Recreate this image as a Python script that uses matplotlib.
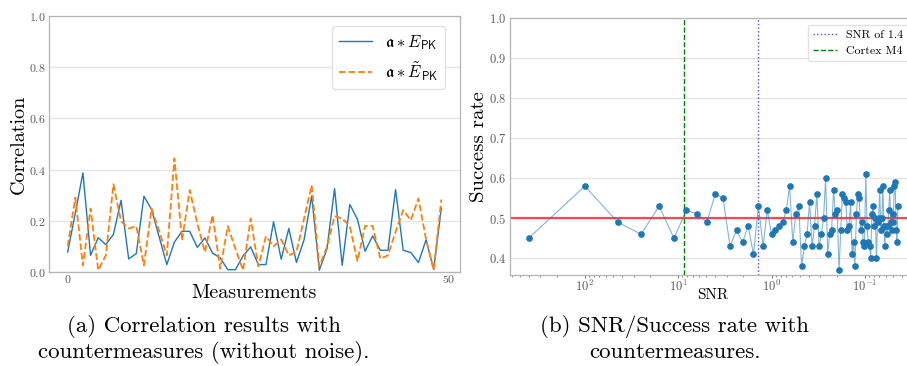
import matplotlib
matplotlib.use("Agg")
import matplotlib.pyplot as plt
from matplotlib.ticker import LogLocator, NullFormatter

plt.rcParams['font.family'] = ['cmr10', 'DejaVu Serif']
plt.rcParams['mathtext.fontset'] = 'cm'
plt.rcParams['axes.formatter.use_mathtext'] = True

# ---------------- data: panel (a) ----------------
measurements = list(range(50))
corr_epk = [0.078, 0.23, 0.387, 0.065, 0.134, 0.107, 0.147, 0.28, 0.051, 0.072,
            0.296, 0.244, 0.137, 0.029, 0.117, 0.159, 0.159, 0.096, 0.133, 0.074,
            0.055, 0.009, 0.009, 0.063, 0.098, 0.029, 0.029, 0.196, 0.05, 0.17,
            0.037, 0.126, 0.297, 0.007, 0.09, 0.326, 0.026, 0.264, 0.206, 0.081,
            0.141, 0.085, 0.085, 0.322, 0.085, 0.076, 0.037, 0.126, 0.01, 0.25]
corr_epk_tilde = [0.10, 0.291, 0.026, 0.248, 0.007, 0.065, 0.343, 0.198, 0.17, 0.179,
                  0.026, 0.248, 0.16, 0.065, 0.444, 0.124, 0.32, 0.19, 0.078, 0.222,
                  0.013, 0.179, 0.091, 0.007, 0.209, 0.022, 0.14, 0.10, 0.127, 0.065,
                  0.078, 0.209, 0.339, 0.022, 0.098, 0.218, 0.209, 0.179, 0.043, 0.18,
                  0.18, 0.052, 0.065, 0.157, 0.242, 0.202, 0.287, 0.127, 0.009, 0.283]
label_epk = r'$\mathfrak{a} \ast E_{\mathsf{PK}}$'
label_epk_tilde = r'$\mathfrak{a} \ast \tilde{E}_{\mathsf{PK}}$'

# ---------------- data: panel (b) ----------------
snr = [400, 100, 44.4, 25, 16, 11.1, 8.16, 6.25, 4.94, 4.0,
       3.31, 2.78, 2.37, 2.04, 1.78, 1.56, 1.38, 1.23, 1.11, 1.0,
       0.907, 0.826, 0.756, 0.694, 0.64, 0.592, 0.549, 0.510, 0.476, 0.444,
       0.416, 0.391, 0.367, 0.346, 0.327, 0.309, 0.292, 0.277, 0.263, 0.25,
       0.238, 0.227, 0.216, 0.207, 0.198, 0.189, 0.181, 0.174, 0.167, 0.16,
       0.154, 0.148, 0.142, 0.137, 0.132, 0.128, 0.123, 0.119, 0.115, 0.111,
       0.107, 0.104, 0.101, 0.0977, 0.0947, 0.0918, 0.0891, 0.0865, 0.0840, 0.0816,
       0.0793, 0.0772, 0.0751, 0.0730, 0.0711, 0.0693, 0.0675, 0.0657, 0.0641, 0.0625,
       0.0610, 0.0595, 0.0581, 0.0567, 0.0554, 0.0541, 0.0528, 0.0517, 0.0505, 0.0494,
       0.0483, 0.0473, 0.0462, 0.0453, 0.0443]
success = [0.45, 0.58, 0.49, 0.46, 0.53, 0.45, 0.52, 0.51, 0.49, 0.56,
           0.55, 0.43, 0.47, 0.44, 0.48, 0.41, 0.53, 0.43, 0.52, 0.46,
           0.47, 0.48, 0.49, 0.52, 0.58, 0.44, 0.51, 0.53, 0.38, 0.43,
           0.46, 0.54, 0.43, 0.48, 0.56, 0.43, 0.46, 0.50, 0.60, 0.41,
           0.46, 0.47, 0.57, 0.51, 0.52, 0.37, 0.47, 0.56, 0.55, 0.54,
           0.47, 0.48, 0.54, 0.41, 0.44, 0.38, 0.51, 0.56, 0.55, 0.47,
           0.49, 0.44, 0.43, 0.61, 0.48, 0.44, 0.43, 0.40, 0.51, 0.53,
           0.48, 0.50, 0.40, 0.49, 0.50, 0.57, 0.47, 0.50, 0.58, 0.48,
           0.43, 0.48, 0.46, 0.48, 0.52, 0.57, 0.49, 0.47, 0.49, 0.51,
           0.58, 0.59, 0.47, 0.44, 0.53]
snr_threshold = 1.4
snr_cortex_m4 = 8.6
baseline = 0.5

captions_a = ["(a) Correlation results with", "countermeasures (without noise)."]
captions_b = ["(b) SNR/Success rate with", "countermeasures."]

# ---------------- figure ----------------
W, H = 907, 366
fig = plt.figure(figsize=(W / 100, H / 100), dpi=100)

def px_axes(l, r, t, b):
    return fig.add_axes([l / W, (H - b) / H, (r - l) / W, (b - t) / H])

spine_col = '#b5b5b5'
grid_col = '#e6e6e6'
tick_col = '#5a5a5a'

def style(ax, fs):
    for s in ax.spines.values():
        s.set_color(spine_col)
        s.set_linewidth(0.9)
    ax.grid(axis='y', color=grid_col, lw=1.0)
    ax.grid(axis='x', visible=False)
    ax.set_axisbelow(True)
    ax.tick_params(colors=tick_col, labelsize=fs, length=0, width=0.6, pad=2.3)

# ---- panel (a)
ax1 = px_axes(49, 460, 16, 272)
style(ax1, 8.5)
ax1.tick_params(axis='x', pad=1.0)
ax1.plot(measurements, corr_epk, color='#1f77b4', lw=1.0, label=label_epk)
ax1.plot(measurements, corr_epk_tilde, color='#ff7f0e', lw=1.3, ls='--',
         label=label_epk_tilde)
ax1.set_xlim(-2.45, 51.45)
ax1.set_ylim(0, 1.0)
ax1.set_xticks([0, 50])
ax1.set_yticks([0.0, 0.2, 0.4, 0.6, 0.8, 1.0])
ax1.set_xlabel('Measurements', fontsize=14.5)
ax1.xaxis.set_label_coords(0.5, -(293 - 272) / 256)
ax1.xaxis.label.set_va('center')
ax1.set_ylabel('Correlation', fontsize=14.5)
ax1.yaxis.set_label_coords((19 - 49) / 411, 0.5)
ax1.yaxis.label.set_va('center')
leg1 = ax1.legend(loc='upper left', bbox_to_anchor=((332 - 49) / 411, (272 - 26) / 256),
                  borderaxespad=0, fontsize=12, frameon=True, fancybox=True,
                  edgecolor='#dddddd', framealpha=0.85)

# ---- panel (b)
ax2 = px_axes(510, 916, 18, 275)
style(ax2, 9)
ax2.set_xscale('log')
ax2.axhline(baseline, color='red', alpha=0.7, lw=1.6, zorder=2)
ax2.axvline(snr_threshold, color='blue', ls=':', lw=1.0, alpha=0.7,
            label='SNR of 1.4', zorder=2)
ax2.axvline(snr_cortex_m4, color='green', ls='--', lw=1.0,
            label='Cortex M4', zorder=2)
ax2.plot(snr, success, color='#1f77b4', lw=0.8, alpha=0.55, zorder=3)
ax2.plot(snr, success, ls='none', marker='o', ms=3.8, color='#1f77b4', zorder=4)
ax2.set_xlim(634, 0.0283)
ax2.set_ylim(0.358, 1.0)
ax2.set_yticks([0.4, 0.5, 0.6, 0.7, 0.8, 0.9, 1.0])
ax2.xaxis.set_major_locator(LogLocator(base=10, numticks=10))
ax2.xaxis.set_minor_locator(LogLocator(base=10, subs=range(2, 10), numticks=10))
ax2.xaxis.set_minor_formatter(NullFormatter())
ax2.tick_params(axis='x', which='major', length=2, width=0.6, pad=0.5)
ax2.tick_params(axis='x', which='minor', length=1.5, width=0.5, colors=tick_col)
ax2.set_xlabel('SNR', fontsize=11)
ax2.xaxis.set_label_coords(0.5, -(295 - 275) / 257)
ax2.xaxis.label.set_va('center')
ax2.set_ylabel('Success rate', fontsize=15)
ax2.yaxis.set_label_coords((479 - 510) / 406, 0.5)
ax2.yaxis.label.set_va('center')
leg2 = ax2.legend(loc='upper left', bbox_to_anchor=((808 - 510) / 406, (275 - 25) / 257),
                  borderaxespad=0, fontsize=8.6, frameon=True, fancybox=True,
                  edgecolor='#dddddd', framealpha=0.85)

# ---- captions
for i, line in enumerate(captions_a):
    fig.text(204 / W, 1 - (327 + 25 * i) / H, line, ha='center', va='center',
             fontsize=16.5)
for i, line in enumerate(captions_b):
    fig.text(675 / W, 1 - (327 + 25 * i) / H, line, ha='center', va='center',
             fontsize=16.5)

fig.savefig('out.png', dpi=100)
